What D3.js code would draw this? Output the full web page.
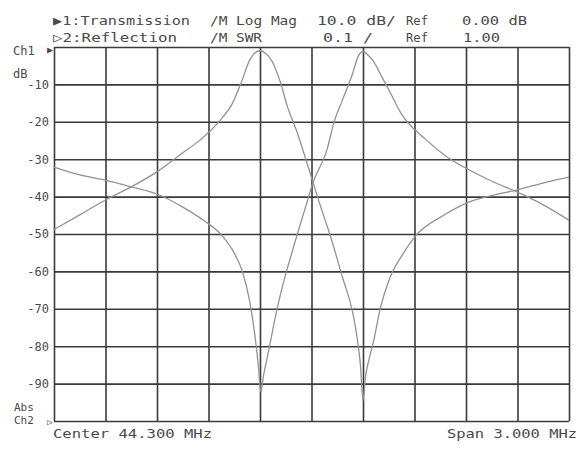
<!DOCTYPE html>
<html>
<head>
<meta charset="utf-8">
<script src="https://cdn.jsdelivr.net/npm/d3@7"></script>
<style>
  html, body { margin: 0; padding: 0; background: #fff; }
  svg { display: block; }
  text { font-family: "DejaVu Sans Mono", "Liberation Mono", monospace; fill: #4a4a4a; }
</style>
</head>
<body>
<svg id="chart" width="588" height="450"></svg>
<script>
// ---- Data ----
// Frequency in MHz; Ch1 transmission in dB (Log Mag), Ch2 reflection as SWR
const transFreq = [42.80, 42.95, 43.10, 43.25, 43.40, 43.55, 43.65, 43.77, 43.84, 43.89, 43.94, 43.97, 44.00, 44.03, 44.07, 44.12, 44.16, 44.21, 44.26, 44.31, 44.34, 44.42, 44.48, 44.54, 44.565, 44.585, 44.60, 44.615, 44.635, 44.66, 44.70, 44.75, 44.83, 44.91, 45.07, 45.22, 45.36, 45.50, 45.67, 45.80];
const transDb   = [-48.8, -44.9, -40.9, -37.4, -33.4, -28.3, -24.9, -19.5, -15.0, -9.6, -3.5, -1.6, -1.0, -1.6, -3.8, -9.6, -16.0, -22.0, -29.0, -36.4, -40.8, -52.0, -61.5, -71.0, -77.5, -85.0, -94.5, -88.0, -83.5, -79.0, -70.0, -62.5, -55.5, -50.3, -45.0, -41.4, -39.6, -38.2, -36.1, -34.8];

const reflFreq = [42.80, 42.95, 43.10, 43.25, 43.40, 43.55, 43.67, 43.77, 43.84, 43.90, 43.94, 43.97, 43.99, 44.005, 44.02, 44.04, 44.06, 44.09, 44.12, 44.19, 44.26, 44.31, 44.39, 44.43, 44.48, 44.54, 44.57, 44.60, 44.63, 44.66, 44.71, 44.76, 44.82, 44.97, 45.09, 45.22, 45.36, 45.50, 45.65, 45.80];
const reflSwr  = [1.679, 1.658, 1.644, 1.626, 1.607, 1.572, 1.537, 1.500, 1.457, 1.396, 1.320, 1.230, 1.150, 1.078, 1.120, 1.165, 1.210, 1.280, 1.340, 1.457, 1.564, 1.639, 1.725, 1.797, 1.858, 1.930, 1.973, 1.988, 1.978, 1.962, 1.920, 1.877, 1.824, 1.751, 1.706, 1.671, 1.639, 1.612, 1.578, 1.537];

const dbTicks = [-10, -20, -30, -40, -50, -60, -70, -80, -90];
const headerLine1 = ["\u25B61:Transmission", "/M Log Mag", "10.0 dB/", "Ref", "0.00 dB"];
const headerLine2 = ["\u25B72:Reflection", "/M SWR", "0.1 /", "Ref", "1.00"];
const centerLabel = "Center 44.300 MHz";
const spanLabel = "Span 3.000 MHz";

// ---- Layout ----
const svg = d3.select("#chart");
const L = 54, R = 569, T = 47, B = 421;

const x = d3.scaleLinear().domain([42.8, 45.8]).range([L, R]);
const yDb = d3.scaleLinear().domain([-100, 0]).range([B, T]);
const ySwr = d3.scaleLinear().domain([1.0, 2.0]).range([B, T]);

// Grid
const gridColor = "#3a3a3a";
const xGrid = svg.append("g").attr("transform", `translate(0,${B})`)
  .call(d3.axisBottom(x).tickValues(d3.range(11).map(i => 42.8 + i * 0.3)).tickSize(-(B - T)).tickFormat(""));
xGrid.select(".domain").remove();
xGrid.selectAll("line").attr("stroke", gridColor).attr("stroke-width", 1.6);

const yGrid = svg.append("g").attr("transform", `translate(${L},0)`)
  .call(d3.axisLeft(yDb).tickValues(d3.range(0, -101, -10)).tickSize(-(R - L)).tickFormat(""));
yGrid.select(".domain").remove();
yGrid.selectAll("line").attr("stroke", gridColor).attr("stroke-width", 1.6);

// Y tick labels
const yAxis = svg.append("g").attr("transform", `translate(${L},0)`)
  .call(d3.axisLeft(yDb).tickValues(dbTicks).tickSize(0).tickPadding(5).tickFormat(d => String(d)));
yAxis.select(".domain").remove();
yAxis.selectAll("text").style("font-family", "'DejaVu Sans Mono', monospace").style("font-size", "12px").attr("fill", "#4a4a4a");

// Curves
const curveColor = "#929292";
const lineDb = d3.line().x((d, i) => x(transFreq[i])).y(d => yDb(d)).curve(d3.curveMonotoneX);
const lineSwr = d3.line().x((d, i) => x(reflFreq[i])).y(d => ySwr(d)).curve(d3.curveMonotoneX);

svg.append("path").attr("d", lineDb(transDb)).attr("fill", "none")
  .attr("stroke", curveColor).attr("stroke-width", 1.3);
svg.append("path").attr("d", lineSwr(reflSwr)).attr("fill", "none")
  .attr("stroke", curveColor).attr("stroke-width", 1.3);

// Header text
const h1x = [53, 210, 317, 406, 462];
const h1w = [137, 87, 79, 22, 65];
const h2x = [53, 210, 323, 406, 463];
const h2w = [124, 52, 50, 22, 37];
headerLine1.forEach((s, i) => {
  svg.append("text").attr("x", h1x[i]).attr("y", 25).attr("font-size", 13)
    .attr("textLength", h1w[i]).attr("lengthAdjust", "spacingAndGlyphs").text(s);
});
headerLine2.forEach((s, i) => {
  svg.append("text").attr("x", h2x[i]).attr("y", 42).attr("font-size", 13)
    .attr("textLength", h2w[i]).attr("lengthAdjust", "spacingAndGlyphs").text(s);
});

// Channel labels
svg.append("text").attr("x", 13).attr("y", 55).attr("font-size", 12).text("Ch1");
svg.append("text").attr("x", 47).attr("y", 53).attr("font-size", 10).text("\u25B6");
svg.append("text").attr("x", 13).attr("y", 78).attr("font-size", 12).text("dB");
svg.append("text").attr("x", 14).attr("y", 411).attr("font-size", 11).text("Abs");
svg.append("text").attr("x", 14).attr("y", 424).attr("font-size", 11).text("Ch2");
svg.append("text").attr("x", 47).attr("y", 425).attr("font-size", 9).text("\u25B7");

// Bottom labels
svg.append("text").attr("x", 53).attr("y", 438).attr("font-size", 13)
  .attr("textLength", 159).attr("lengthAdjust", "spacingAndGlyphs").text(centerLabel);
svg.append("text").attr("x", 447).attr("y", 438).attr("font-size", 13)
  .attr("textLength", 130).attr("lengthAdjust", "spacingAndGlyphs").text(spanLabel);
</script>
</body>
</html>
